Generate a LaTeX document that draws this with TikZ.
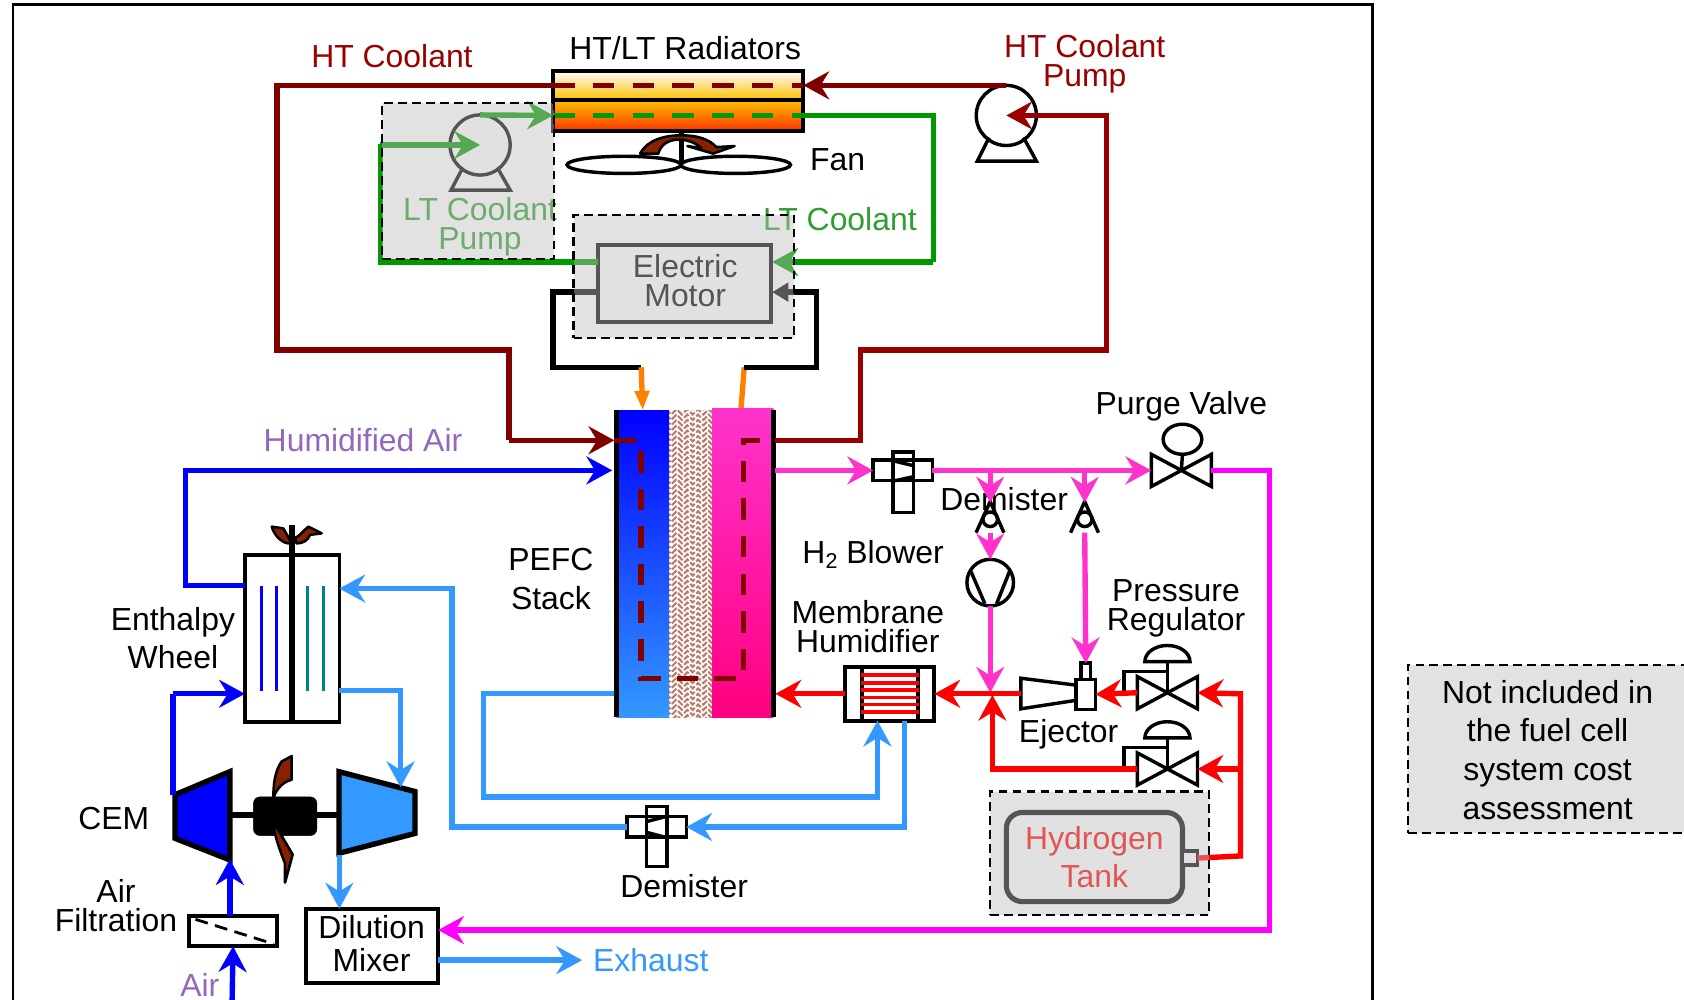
\documentclass[tikz,border=0pt]{standalone}
\usepackage{xcolor}
\usepackage{fontspec}
\setmainfont{Liberation Sans}
\usepackage{tikz}
\usetikzlibrary{positioning,arrows.meta,shapes.geometric}
\definecolor{htred}{HTML}{800000}
\definecolor{httext}{HTML}{990000}
\definecolor{ltgreen}{HTML}{009900}
\definecolor{lttext}{HTML}{2E9E2E}
\definecolor{airblue}{HTML}{0000FF}
\definecolor{skyblue}{HTML}{3399FF}
\definecolor{hotpink}{HTML}{FF33CC}
\definecolor{purgemag}{HTML}{FF00FF}
\definecolor{h2red}{HTML}{FF0000}
\definecolor{shafttip}{HTML}{FF8000}
\definecolor{airtext}{HTML}{9467BD}
\definecolor{bladered}{HTML}{8B2000}
\definecolor{wheelteal}{HTML}{008080}
\definecolor{membbrown}{HTML}{BC7A6A}
\tikzset{
  pipe/.style={line width=5pt, line join=miter},
  tip/.style={-{Stealth[length=24pt,width=26pt,inset=8pt]}},
  smalltip/.style={-{Stealth[length=15pt,width=17pt,inset=0pt]}},
  oiltip/.style={-{Stealth[length=18pt,width=13pt,inset=0pt]}},
  dev/.style={draw, fill=white, line width=3.2pt, inner sep=0pt, outer sep=0pt},
  devline/.style={draw, line width=3.2pt, line join=miter},
  lbl/.style={font=\fontsize{29.7}{27}\selectfont, align=center, inner sep=0pt, outer sep=0pt},
  lblwide/.style={font=\fontsize{29.7}{36}\selectfont, align=center, inner sep=0pt, outer sep=0pt},
  port/.style={minimum width=56pt, minimum height=30pt, inner sep=0pt, outer sep=0pt},
  greybox/.style={draw=black, dashed, dash pattern=on 8pt off 5pt, line width=2pt, fill={rgb,255:red,190;green,190;blue,190}, fill opacity=.45, inner sep=0pt, outer sep=0pt},
  blade/.style={draw=black, fill=bladered, line width=2.4pt, line join=round},
  insidedash/.style={dash pattern=on 20pt off 15pt}
}
\begin{document}
\begin{tikzpicture}[x=1pt, y=-1pt]
\useasboundingbox (0,0) rectangle (1568,931);
\draw[line width=2.5pt] (12,945) -- (12,4) -- (1278,4) -- (1278,945);
% radiators and fan
\node[draw, line width=3.5pt, top color=white, bottom color=orange!50!yellow, minimum width=233pt, minimum height=27pt, inner sep=0pt, outer sep=0pt] (radhot) at (631.5,79.5) {};
\node[draw, line width=3.5pt, top color=orange!50!yellow, bottom color=red!80!yellow, minimum width=233pt, minimum height=29pt, inner sep=0pt, outer sep=0pt] (radcold) at (631.5,107.5) {};
\node[lbl] (radlbl) at (638,45) {HT/LT Radiators};
\draw[line width=5pt] (634.5,122) -- (634.5,153);
\node[ellipse, dev, fill=none, minimum width=106pt, minimum height=16pt] (fanl) at (581,153.5) {};
\node[ellipse, dev, fill=none, minimum width=102pt, minimum height=16pt] (fanr) at (685,153.5) {};
\draw[blade] (596,143) .. controls (602,131) and (618,126) .. (634,126) .. controls (648,126) and (660,129) .. (667,137) -- (684,136) -- (664,143) -- (640,136) -- (653,138) .. controls (648,133) and (640,130) .. (632,130) .. controls (622,130) and (615,135) .. (613,143) -- cycle;
\node[lbl] (fanlbl) at (780,149) {Fan};
% pumps
\node[circle, dev, minimum size=56pt] (htpump) at (937,107.5) {};
\draw[devline] (921,128) -- (910,150) -- (965,150) -- (953,128);
\node[lbl, text=httext] (htplbl) at (1010,59) {HT Coolant\\Pump};
\node[circle, dev, minimum size=56pt] (ltpump) at (447,135) {};
\draw[devline] (431,156) -- (420,177) -- (475,177) -- (463,156);
\node[lbl, text=lttext] (ltplbl) at (447,211) {LT Coolant\\Pump};
\node[lbl, text=httext] (htlbl) at (365,52) {HT Coolant};
\node[lbl, text=lttext] (ltlbl) at (782,204) {LT Coolant};
% motor
\node[dev, minimum width=161pt, minimum height=72pt, line width=3.5pt] (motor) at (637.5,264) {};
\node[lbl] (motorlbl) at (638,261) {Electric\\Motor};
\coordinate (mltin) at (719,244);
\coordinate (mltout) at (557,244);
\coordinate (mpin) at (719,272);
\coordinate (mpout) at (557,272);
% stack
\node[top color=airblue, bottom color=skyblue, minimum width=49pt, minimum height=286pt, inner sep=0pt, outer sep=0pt] (anode) at (598.5,525) {};
\node[fill=white, minimum width=40pt, minimum height=286pt, inner sep=0pt, outer sep=0pt] (memb) at (643,525) {};
\begin{scope}
\clip (623,382) rectangle (663,668);
\foreach \y in {376,381,...,668}
  \draw[membbrown, line width=1.9pt, dash pattern=on 6pt off 2pt] (620,\y) -- ++(5,5) -- ++(5,-5) -- ++(5,5) -- ++(5,-5) -- ++(5,5) -- ++(5,-5) -- ++(5,5) -- ++(5,-5) -- ++(5,5) -- ++(5,-5);
\end{scope}
\node[top color=hotpink, bottom color=red!50!magenta!100!white, minimum width=57pt, minimum height=288pt, inner sep=0pt, outer sep=0pt] (cathode) at (691.5,524) {};
\draw[line width=5pt] (574,382) -- (574,668);
\draw[line width=5pt] (720,382) -- (720,668);
\coordinate (htin) at (572,410);
\coordinate (airin) at (570,438);
\coordinate (airout) at (572,646);
\coordinate (htout) at (722,410);
\coordinate (h2out) at (722,438);
\coordinate (h2in) at (722,646);
\node[lblwide] (stacklbl) at (513,539) {PEFC\\Stack};
% hydrogen side devices
\node[dev, minimum width=55pt, minimum height=19pt] (sepbar) at (840.5,438) {};
\node[dev, minimum width=19pt, minimum height=56pt, fill=none] (sepcol) at (841,449) {};
\draw[devline] (831.5,429) -- (850,433.5) (831.5,448) -- (850,444);
\node[port] (purge) at (1100,438) {};
\draw[devline] (purge.north west) -- (purge.south west) -- (purge.north east) -- (purge.south east) -- cycle;
\node[ellipse, dev, fill=none, minimum width=36pt, minimum height=28pt] (purgetop) at (1101,409) {};
\draw[devline] (purge.center) -- (purgetop.south);
\node[lbl] (purgelbl) at (1100,378) {Purge Valve};
\node[circle, dev, fill=none, minimum size=13.6pt] (chkl) at (922,483.5) {};
\draw[devline] (908.8,496) -- (922,467) -- (934.8,496);
\node[circle, dev, fill=none, minimum size=13.6pt] (chkr) at (1010,483.5) {};
\draw[devline] (996.8,496) -- (1010,467) -- (1022.8,496);
\node[circle, dev, fill=none, minimum size=43.4pt] (blower) at (922,542.5) {};
\draw[devline] (904,532) -- (917,562) (940,532) -- (928,562);
\node[lbl] (demlbl) at (935,465) {Demister};
\node[lbl] (blowlbl) at (813,516) {H\raisebox{-5pt}{\fontsize{20}{20}\selectfont 2} Blower};
\node[dev, minimum width=83pt, minimum height=50pt, line width=3.8pt] (humid) at (828.5,646) {};
\draw[line width=3.8pt] (802.5,621) -- (802.5,671) (855,621) -- (855,671);
\foreach \y in {628.5,636,642.5,649.5,656,663}
  \draw[h2red, line width=3pt] (802,\y) -- (856,\y);
\node[lbl] (humlbl) at (808,583.5) {Membrane\\Humidifier};
\draw[dev] (950.5,631.5) -- (1002.5,638) -- (1002.5,652) -- (950.5,660) -- cycle;
\node[dev, minimum width=18pt, minimum height=28pt] (ejbody) at (1011,646.5) {};
\node[dev, minimum width=9pt, minimum height=15pt, above=0pt of ejbody] (ejtop) {};
\node[lbl] (ejlbl) at (995,684) {Ejector};
\node[port] (regup) at (1087,645) {};
\node[port] (reglow) at (1087,716) {};
\foreach \reg in {regup,reglow}{
  \draw[devline] (\reg.north west) -- (\reg.south west) -- (\reg.north east) -- (\reg.south east) -- cycle;
  \draw[devline] (\reg.center) -- ++(0,-29);
  \draw[devline, fill=white] ([shift={(-21,-29)}]\reg.center) arc[start angle=180, end angle=0, x radius=21pt, y radius=15pt] -- cycle;
  \draw[devline] ([xshift=-40.5pt]\reg.center) -- ++(0,-20) -- ++(40.5,0);
}
\node[lbl] (reglbl) at (1095,566) {Pressure\\Regulator};
\node[draw=black, fill=white, line width=4.8pt, rounded corners=15pt, minimum width=164pt, minimum height=83pt, lblwide, text=h2red] (tank) at (1019,798) {Hydrogen\\Tank};
\node[dev, minimum width=14pt, minimum height=13pt, right=0pt of tank, yshift=-1pt] (nozzle) {};
% air side devices
\draw[line width=3.5pt, fill=white] (228,517) rectangle (316,672);
\node[minimum width=88pt, minimum height=155pt, inner sep=0pt, outer sep=0pt] (wheel) at (272,594.5) {};
\draw[airblue, line width=3pt] (243.5,546) -- (243.5,643) (257.5,546) -- (257.5,643);
\draw[wheelteal, line width=3pt] (286,546) -- (286,643) (301,546) -- (301,643);
\draw[line width=5.5pt] (271.6,489) -- (271.6,671);
\draw[blade] (253,490.4) -- (263.8,492) .. controls (266,496) and (268,499) .. (271.6,506) .. controls (264,507) and (256,500) .. (253,490.4) -- cycle;
\draw[blade] (274.7,501) .. controls (279,499) and (283,494) .. (287,490.4) -- (299.5,496.6) -- (288.6,498) .. controls (287,503) and (282,506) .. (276.2,506) -- cycle;
\node[lblwide] (wheellbl) at (161,594) {Enthalpy\\Wheel};
\draw[line width=5.5pt] (214,759) -- (316,759);
\node[draw, fill=black, rounded corners=6pt, minimum width=59pt, minimum height=36pt, inner sep=0pt, outer sep=0pt] (cemmotor) at (265.5,760) {};
\draw[blade] (271.6,704) -- (262.3,709) .. controls (256,718) and (254.5,729) .. (254.5,745) .. controls (255,738) and (262,728) .. (271.6,726) -- cycle;
\draw[blade] (254.5,765) .. controls (255,775) and (258,785) .. (265.4,804) -- (265.4,821.8) -- (272.5,795.6) .. controls (268,788) and (262,778) .. (254.5,765) -- cycle;
\draw[line width=5pt, fill=airblue, line join=miter] (163,740) -- (214,718.5) -- (214,800.7) -- (163,780.6) -- cycle;
\draw[line width=5pt, fill=skyblue, line join=miter] (315.6,718.5) -- (386.4,737) -- (386.4,776) -- (315.6,794.5) -- cycle;
\coordinate (compout) at (163,740);
\coordinate (compin) at (214,800);
\coordinate (turbin) at (373,733);
\coordinate (turbout) at (316,796);
\node[lbl] (cemlbl) at (106,762) {CEM};
\node[dev, minimum width=82pt, minimum height=28pt] (filter) at (217,867) {};
\draw[line width=2.6pt, dash pattern=on 12pt off 7pt] (182,856) -- (255,879);
\node[lbl] (filtlbl) at (108,843.5) {Air\\Filtration};
\node[lbl, text=airtext] (airlbl) at (186,917) {Air};
\coordinate (airsrc) at (216,940);
\node[dev, minimum width=123pt, minimum height=69pt, line width=3.8pt] (mixer) at (346.5,880.5) {};
\node[lbl, font=\fontsize{29.7}{31}\selectfont] (mixlbl) at (346,878.5) {Dilution\\Mixer};
\node[dev, minimum width=55pt, minimum height=19pt] (dembar) at (611.5,770) {};
\node[dev, minimum width=19pt, minimum height=56pt, fill=none] (demcol) at (611.5,779) {};
\draw[devline] (602,765) -- (621,760) (602,775) -- (621,780);
\node[lbl] (dem2lbl) at (637,825) {Demister};
\node[lbl, text=airtext] (humairlbl) at (338,410) {Humidified Air};
\node[lbl, text=skyblue] (exhlbl) at (606,894) {Exhaust};
\coordinate (exhend) at (542,894);
% coolant loops
\draw[pipe, htred, tip] (htpump.north) -- (radhot.east);
\draw[pipe, htred] (radhot.west) -- (258,79.5) -- (258,326) -- (474,326) -- (474,410);
\draw[pipe, htred, tip] (474,410) -- (htin);
\draw[pipe, httext, tip] (htout) -- (801,410) -- (801,326) -- (1030,326) -- (1030,107.5) -- (htpump.center);
\draw[pipe, ltgreen] (radcold.east) -- (869,107.5) -- (869,244);
\draw[pipe, ltgreen, tip] (869,244) -- (mltin);
\draw[pipe, ltgreen] (mltout) -- (354,244) -- (354,134);
\draw[pipe, ltgreen, tip] (354,135) -- (ltpump.center);
\draw[pipe, ltgreen, tip] (ltpump.north) -- (radcold.west);
\draw[pipe, htred, dash pattern=on 20pt off 17pt] (radhot.west) -- (radhot.east);
\draw[pipe, ltgreen, dash pattern=on 20pt off 17pt] (radcold.west) -- (radcold.east);
\draw[pipe, htred, insidedash] (htin) -- (597,410) -- (597,632) -- (692,632) -- (692,410) -- (htout);
\draw[pipe, black] (mpout) -- (515,272) -- (515,342) -- (597,342);
\draw[pipe, shafttip, oiltip] (597,342) -- (anode.north);
\draw[pipe, shafttip] (690,380) -- (693,342);
\draw[pipe, black, smalltip] (693,342) -- (760,342) -- (760,272) -- (mpin);
% air side
\draw[pipe, airblue, tip] (airsrc) -- (filter.south);
\draw[pipe, airblue, tip] (filter.north -| compin) -- (compin);
\draw[pipe, airblue] (compout) ++(-2,0) -- (161,646);
\draw[pipe, airblue, tip] (161,646) -- (wheel.west |- 0,646);
\draw[pipe, airblue, tip] (wheel.west |- 0,545) -- (173,545) -- (173,438) -- (airin);
\draw[pipe, skyblue, tip] (airout) -- (450,646) -- (450,742) -- (817,742) -- (humid.south -| 817,0);
\draw[pipe, skyblue, tip] (842,671) -- (842,770) -- (dembar.east);
\draw[pipe, skyblue, tip] (dembar.west) -- (421,770) -- (421,548) -- (wheel.east |- 0,548);
\draw[pipe, skyblue, tip] (wheel.east |- 0,643) -- (373,643) -- (turbin);
\draw[pipe, skyblue, tip] (turbout) -- (mixer.north -| turbout);
\draw[pipe, skyblue, tip] (mixer.east |- exhend) -- (exhend);
% hydrogen side
\draw[pipe, hotpink, tip] (h2out) -- (sepbar.west);
\draw[pipe, hotpink, tip] (sepbar.east) -- (purge.west);
\draw[pipe, hotpink, tip] (922,438) -- (chkl.center |- 0,468);
\draw[pipe, hotpink, tip] (1010,438) -- (chkr.center |- 0,468);
\draw[pipe, hotpink, tip] (chkl.center |- 0,496) -- (blower.north);
\draw[pipe, hotpink, tip] (blower.south) -- (922,645);
\draw[pipe, hotpink, tip] (chkr.center |- 0,496) -- (ejtop.north);
\draw[pipe, purgemag, tip] (purge.east) -- (1182,438) -- (1182,866) -- (mixer.east |- 0,866);
\draw[pipe, h2red, tip] (nozzle.east) -- (1155,797) -- (1155,646) -- (regup.east);
\draw[pipe, h2red, tip] (1155,716) -- (reglow.east);
\draw[pipe, h2red, tip] (reglow.west) -- (924,716) -- (924,647);
\draw[pipe, h2red, tip] (regup.west) -- (ejbody.east);
\draw[pipe, h2red, tip] (950.5,646) -- (humid.east);
\draw[pipe, h2red, tip] (humid.west) -- (h2in);
% excluded from cost
\node[greybox, minimum width=160pt, minimum height=145pt] (ltbox) at (436,168.5) {};
\node[greybox, minimum width=205pt, minimum height=115pt] (motorbox) at (636.5,257.5) {};
\node[greybox, minimum width=204pt, minimum height=115pt] (tankbox) at (1024,794.5) {};
\node[greybox, minimum width=280pt, minimum height=157pt] (notebox) at (1451,697.5) {};
\node[lblwide] (notelbl) at (1441,698) {Not included in\\the fuel cell\\system cost\\assessment};
\end{tikzpicture}
\end{document}
